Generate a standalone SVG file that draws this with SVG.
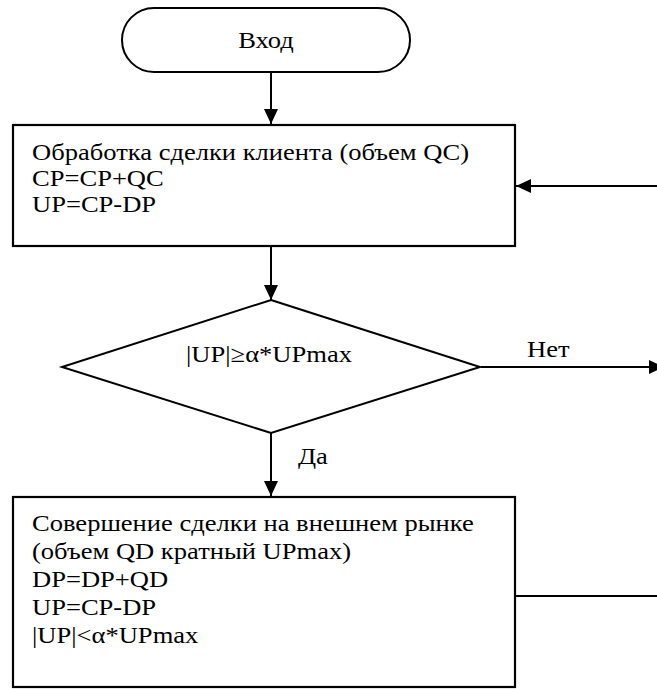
<svg xmlns="http://www.w3.org/2000/svg" width="657" height="689" viewBox="0 0 657 689">
<style>
.s{fill:#fff;stroke:#000;stroke-width:2.2}
.d{fill:#fff;stroke:#000;stroke-width:2}
.t{font-family:"Liberation Serif","Times New Roman",serif;font-size:23.5px;fill:#000}
.c{fill:none;stroke:#000;stroke-width:2}
</style>
<defs>
<marker id="a" viewBox="0 0 15 14" refX="15" refY="7" markerWidth="15" markerHeight="14" markerUnits="userSpaceOnUse" orient="auto">
<path d="M0,0 L15,7 L0,14 z" fill="#000"/>
</marker>
</defs>
<rect width="657" height="689" fill="#fff"/>
<g id="start">
<rect class="d" x="122" y="8" width="288" height="64" rx="32"/>
<text class="t" transform="translate(266,48) scale(1.13,1)" text-anchor="middle">Вход</text>
</g>
<g id="process1">
<rect class="s" x="13" y="125" width="502" height="121"/>
<g transform="translate(32,0) scale(1.13,1)">
<text class="t" x="0" y="160">Обработка сделки клиента (объем QC)</text>
<text class="t" x="0" y="186">CP=CP+QC</text>
<text class="t" x="0" y="212">UP=CP-DP</text>
</g>
</g>
<g id="decision">
<polygon class="d" points="271,300 480,367 271,433 62,367"/>
<text class="t" transform="translate(269,362) scale(1.13,1)" text-anchor="middle">|UP|≥α*UPmax</text>
</g>
<g id="process2">
<rect class="s" x="13" y="497" width="502" height="190"/>
<g transform="translate(32,0) scale(1.13,1)">
<text class="t" x="0" y="531">Совершение сделки на внешнем рынке</text>
<text class="t" x="0" y="559">(объем QD кратный UPmax)</text>
<text class="t" x="0" y="587">DP=DP+QD</text>
<text class="t" x="0" y="615">UP=CP-DP</text>
<text class="t" x="0" y="643">|UP|&lt;α*UPmax</text>
</g>
</g>
<g id="connectors">
<line class="c" x1="271" y1="72" x2="271" y2="124" marker-end="url(#a)"/>
<line class="c" x1="271" y1="246" x2="271" y2="300" marker-end="url(#a)"/>
<line class="c" x1="271" y1="433" x2="271" y2="496" marker-end="url(#a)"/>
<line class="c" x1="481" y1="367" x2="664" y2="367" marker-end="url(#a)"/>
<line class="c" x1="657" y1="186" x2="516" y2="186" marker-end="url(#a)"/>
<line class="c" x1="515" y1="596" x2="657" y2="596"/>
<text class="t" transform="translate(527,357) scale(1.13,1)">Нет</text>
<text class="t" transform="translate(298,464) scale(1.13,1)">Да</text>
</g>
</svg>
